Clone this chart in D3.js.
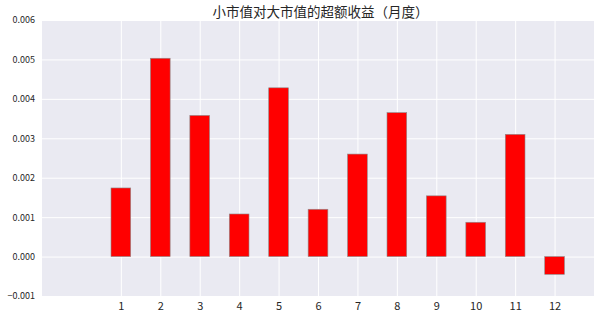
<!DOCTYPE html>
<html><head><meta charset="utf-8">
<script src="https://cdn.jsdelivr.net/npm/d3@7"></script>
<style>body{margin:0;background:#fff}</style>
</head><body>
<svg id="c" width="600" height="320"></svg>
<script>
const months = [1,2,3,4,5,6,7,8,9,10,11,12];
const excess = [0.00174,0.00503,0.00358,0.00108,0.00428,0.00120,0.00260,0.00365,0.00154,0.00087,0.00310,-0.00045];
const yTicks = [-0.001,0,0.001,0.002,0.003,0.004,0.005,0.006];
const title = "小市值对大市值的超额收益（月度）";

const svg = d3.select("#c");
const L=42, R=594, T=20, B=296;
const x = d3.scaleLinear().domain([-1,13]).range([L,R]);
const y = d3.scaleLinear().domain([-0.001,0.006]).range([B,T]);

svg.append("rect").attr("x",L).attr("y",T).attr("width",R-L).attr("height",B-T).attr("fill","#EAEAF2");

const gy = svg.append("g").attr("transform",`translate(${L},0)`)
  .call(d3.axisLeft(y).tickValues(yTicks).tickSize(-(R-L)).tickPadding(7)
    .tickFormat(d=>d3.format(".3f")(d).replace("-","\u2212")));
gy.select(".domain").remove();
gy.selectAll("line").attr("stroke","#fff").attr("stroke-width",1);
gy.selectAll("text").attr("font-family","Noto Sans CJK SC").attr("font-size",9).attr("fill","#262626");

const gx = svg.append("g").attr("transform",`translate(0,${B})`)
  .call(d3.axisBottom(x).tickValues(months).tickSize(-(B-T)).tickPadding(6).tickFormat(d3.format("d")));
gx.select(".domain").remove();
gx.selectAll("line").attr("stroke","#fff").attr("stroke-width",1);
gx.selectAll("text").attr("font-family","Noto Sans CJK SC").attr("font-size",11).attr("fill","#262626");

const bw = x(0.5)-x(0);
svg.append("g").selectAll("rect").data(months).join("rect")
  .attr("x",(d)=>x(d)-bw/2)
  .attr("width",bw)
  .attr("y",(d,i)=>y(Math.max(0,excess[i])))
  .attr("height",(d,i)=>Math.abs(y(excess[i])-y(0)))
  .attr("fill","#FF0000").attr("stroke","#8c8c8c").attr("stroke-width",0.6);

svg.append("text").attr("x",320.5).attr("y",17).attr("text-anchor","middle")
  .attr("font-family","Noto Sans CJK SC").attr("font-size",13.5).attr("fill","#262626").text(title);
</script>
</body></html>
